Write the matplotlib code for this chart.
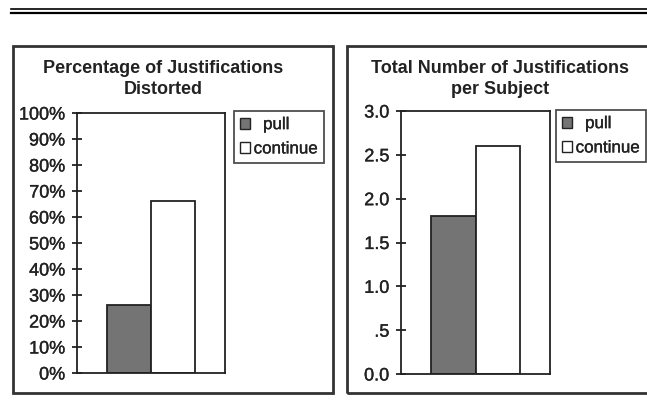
import matplotlib.pyplot as plt
import matplotlib.patheffects as pe
from matplotlib.lines import Line2D
from matplotlib.patches import Rectangle, Patch
from matplotlib.ticker import FixedLocator

plt.rcParams['font.family'] = ['Liberation Sans', 'DejaVu Sans']

# data
groups = ['pull', 'continue']
pct_distorted = [26, 66]          # percent
total_per_subject = [1.8, 2.6]     # justifications per subject

pct_ticks = list(range(0, 101, 10))
pct_labels = [f'{t}%' for t in pct_ticks]
num_ticks = [0.0, 0.5, 1.0, 1.5, 2.0, 2.5, 3.0]
num_labels = ['0.0', '.5', '1.0', '1.5', '2.0', '2.5', '3.0']

colors = ['#747474', 'white']
ink = '#222222'
heavy = [pe.withStroke(linewidth=0.25, foreground=ink)]

W, H = 647, 414
fig = plt.figure(figsize=(W / 100, H / 100), dpi=100)


def px(x0, y0, x1, y1):
    # pixel box (top-left origin) -> figure fraction rect
    return [x0 / W, 1 - y1 / H, (x1 - x0) / W, (y1 - y0) / H]


# double rule across the top
for y, lw in [(10, 1.2), (13.5, 1.6)]:
    fig.add_artist(Line2D([11 / W, 1], [1 - y / H] * 2, color='black', lw=lw,
                          transform=fig.transFigure))

# outer frames of the two panels
for x0, x1 in [(13, 333), (347, 720)]:
    r = px(x0, 47, x1, 394)
    fig.add_artist(Rectangle((r[0], r[1]), r[2], r[3], transform=fig.transFigure,
                             fill=False, ec='#333333', lw=2.0))


def panel(rect, values, ylim, ticks, labels, title, title_x, leg_xy):
    ax = fig.add_axes(px(*rect))
    ax.bar([-0.3, 0.3], values, width=0.6, color=colors, edgecolor=ink, lw=1.3)
    ax.set_xlim(-1, 1)
    ax.set_ylim(*ylim)
    ax.yaxis.set_major_locator(FixedLocator(ticks))
    ax.set_yticklabels(labels)
    ax.set_xticks([])
    for s in ax.spines.values():
        s.set_color(ink)
        s.set_linewidth(1.3)
    ax.tick_params(axis='y', direction='inout', length=7, width=1.3, color=ink,
                   labelsize=13, labelcolor=ink, pad=5)
    for t in ax.get_yticklabels():
        t.set_path_effects(heavy)
    fig.text(title_x / W, 1 - 79 / H, title, ha='center', va='center',
             fontsize=13, fontweight='bold', color=ink, linespacing=1.35)
    handles = [Patch(facecolor=c, edgecolor=ink, lw=1.0) for c in colors]
    # the filled key sits a little apart from its label
    shown = ['  ' + groups[0], groups[1]]
    leg = ax.legend(handles, shown, loc='upper left',
                    bbox_to_anchor=(leg_xy[0] / W, 1 - leg_xy[1] / H),
                    bbox_transform=fig.transFigure, borderaxespad=0,
                    fontsize=12.2, handlelength=0.6, handleheight=0.6,
                    handletextpad=0.2, borderpad=0.36, labelspacing=0.55,
                    frameon=True, fancybox=False)
    leg.get_frame().set_edgecolor(ink)
    leg.get_frame().set_linewidth(1.3)
    for t in leg.get_texts():
        t.set_color(ink)
        t.set_path_effects(heavy)
    return ax


panel((77, 114, 225, 374), pct_distorted, (0, 100), pct_ticks, pct_labels,
      'Percentage of Justifications\nDistorted', 163, (234, 112))
panel((401, 112, 550, 375), total_per_subject, (0, 3.0), num_ticks, num_labels,
      'Total Number of Justifications\nper Subject', 500, (556, 111))

fig.savefig('out.png', dpi=100)
